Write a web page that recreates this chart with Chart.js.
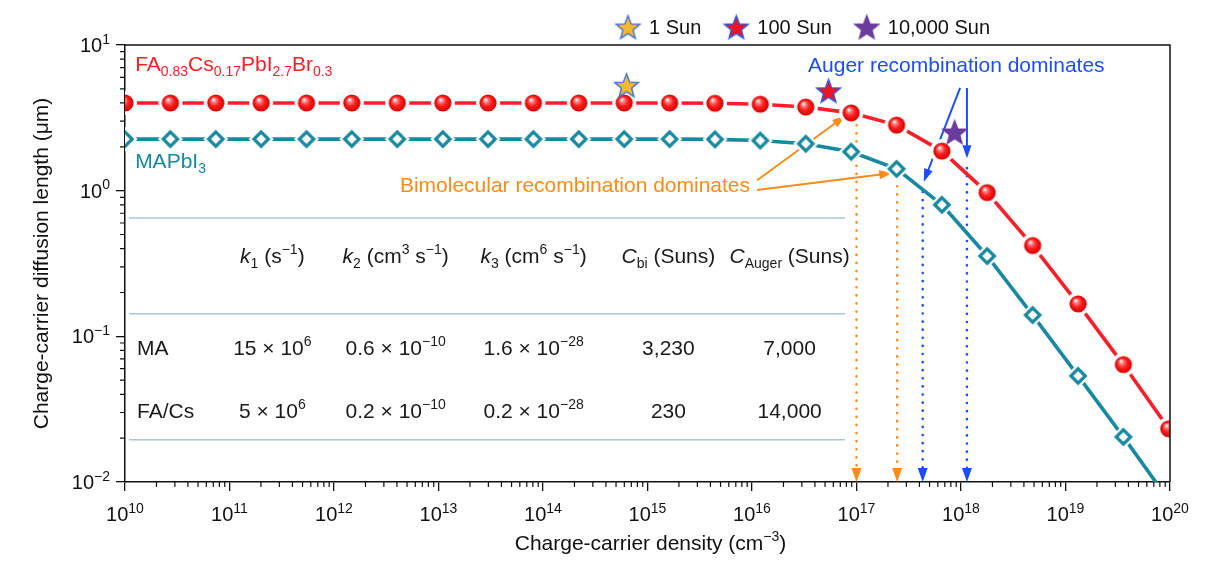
<!DOCTYPE html>
<html>
<head>
<meta charset="utf-8">
<script src="https://cdn.jsdelivr.net/npm/chart.js@4.4.1/dist/chart.umd.min.js"></script>
<style>
  html, body { margin: 0; padding: 0; background: #fff; }
</style>
</head>
<body>
<canvas id="diff-chart" width="1217" height="573"></canvas>
<script>
const FONT = '"Liberation Sans", Arial, Helvetica, sans-serif';

// charge-carrier density (cm^-3) of the computed points
const density = [1.00e10, 2.72e10, 7.39e10, 2.01e11, 5.46e11, 1.48e12, 4.03e12, 1.10e13,
  2.98e13, 8.10e13, 2.20e14, 5.99e14, 1.63e15, 4.42e15, 1.20e16, 3.27e16,
  8.89e16, 2.42e17, 6.57e17, 1.78e18, 4.85e18, 1.32e19, 3.58e19, 9.74e19];
// diffusion length (um)
const lengthFACs = [4.0, 4.0, 4.0, 4.0, 4.0, 4.0, 4.0, 4.0, 4.0, 4.0, 4.0, 4.0, 4.0,
  3.98, 3.92, 3.75, 3.42, 2.82, 1.87, 0.97, 0.42, 0.167, 0.064, 0.0232];
const lengthMA = [2.26, 2.26, 2.26, 2.26, 2.26, 2.26, 2.26, 2.26, 2.26, 2.26, 2.26, 2.26, 2.26,
  2.25, 2.21, 2.10, 1.85, 1.41, 0.80, 0.356, 0.140, 0.0535, 0.0204, 0.0075];

// illumination markers
const sunLabels = ['1 Sun', '100 Sun', '10,000 Sun'];
const sunDensity = [6.3e14, 5.4e16, 8.7e17];
const sunLength = [5.3, 4.85, 2.53];
const sunFill = ['#f6b82c', '#ec1524', '#6a3c9e'];
const sunEdge = ['#3d6fe0', '#2f57e8', '#6a3c9e'];

// dotted drop lines to the density axis
const dropDensity = [1e17, 2.45e17, 4.3e17, 1.14e18];
const dropTop = [3.2, 1.22, 0.98, 1.43];
const dropBottom = 0.0125;

// annotation arrows [density, length]
const arrowFrom = [[1.12e16, 1.18], [1.12e16, 1.01], [9.8e17, 5.07], [1.14e18, 5.07]];
const arrowTo = [[7.8e16, 3.26], [2.2e17, 1.32], [4.4e17, 1.15], [1.14e18, 1.67]];

const xMajor = [1e10, 1e11, 1e12, 1e13, 1e14, 1e15, 1e16, 1e17, 1e18, 1e19, 1e20];
const yMajor = [1e-2, 1e-1, 1e0, 1e1];

// rate-constant table
const tableHead = ['*k*_{1} (s^{−1})', '*k*_{2} (cm^{3} s^{−1})', '*k*_{3} (cm^{6} s^{−1})',
  '*C*_{bi} (Suns)', '*C*_{Auger} (Suns)'];
const tableRowNames = ['MA', 'FA/Cs'];
const tableMA = ['15 × 10^{6}', '0.6 × 10^{−10}', '1.6 × 10^{−28}', '3,230', '7,000'];
const tableFACs = ['5 × 10^{6}', '0.2 × 10^{−10}', '0.2 × 10^{−28}', '230', '14,000'];
const tableColExp = [11.41, 12.59, 13.91, 15.20, 16.36];   // log10 of density at column centre
const tableBaseline = [0.319, 0.0745, 0.0275];               // header, MA, FA/Cs
const tableRules = [0.65, 0.143, 0.0195];
const tableSpan = [10.04, 16.89];

const RED = '#f7202a';
const TEAL = '#17899f';
const ORANGE = '#ff8b17';
const BLUE = '#1d4dff';
const dropColor = [ORANGE, ORANGE, BLUE, BLUE];
const arrowColor = [ORANGE, ORANGE, BLUE, BLUE];

function makeCanvas(s) {
  const c = document.createElement('canvas');
  c.width = c.height = s;
  return c;
}

function makeSphere(r, halo) {
  const s = Math.ceil((r + halo) * 2) + 2, c = makeCanvas(s), g = c.getContext('2d'), m = s / 2;
  g.beginPath(); g.arc(m, m, r + halo, 0, Math.PI * 2); g.fillStyle = '#fff'; g.fill();
  const gr = g.createRadialGradient(m - r * 0.3, m - r * 0.4, r * 0.05, m, m, r);
  gr.addColorStop(0, '#ffffff');
  gr.addColorStop(0.22, '#ff8080');
  gr.addColorStop(0.55, '#ff1d1d');
  gr.addColorStop(1, '#d20000');
  g.beginPath(); g.arc(m, m, r, 0, Math.PI * 2); g.fillStyle = gr; g.fill();
  return c;
}

function makeDiamond(h, lw, halo, color) {
  const outer = h + lw * 0.75 + halo;
  const s = Math.ceil(outer * 2) + 2, c = makeCanvas(s), g = c.getContext('2d'), m = s / 2;
  const path = (d) => { g.beginPath(); g.moveTo(m, m - d); g.lineTo(m + d, m); g.lineTo(m, m + d); g.lineTo(m - d, m); g.closePath(); };
  path(outer); g.fillStyle = '#fff'; g.fill();
  path(h); g.fill(); g.lineWidth = lw; g.strokeStyle = color; g.lineJoin = 'miter'; g.stroke();
  return c;
}

function makeStar(R, fill, edge) {
  const s = Math.ceil(R * 2) + 4, c = makeCanvas(s), g = c.getContext('2d'), m = s / 2;
  g.beginPath();
  for (let i = 0; i < 10; i++) {
    const r = i % 2 ? R * 0.43 : R, a = -Math.PI / 2 + i * Math.PI / 5;
    g.lineTo(m + r * Math.cos(a), m + R * 0.1 + r * Math.sin(a));
  }
  g.closePath();
  g.fillStyle = fill; g.fill();
  g.lineWidth = 1.4; g.strokeStyle = edge; g.stroke();
  return c;
}

const sphere = makeSphere(8.6, 3.4);
const diamond = makeDiamond(7.2, 3.2, 3, TEAL);
const stars = sunLabels.map((_, i) => makeStar(12.5, sunFill[i], sunEdge[i]));

// tiny markup: ^{sup} _{sub} *italic*
function parseRich(str) {
  const out = [];
  str.replace(/\^\{([^}]*)\}|_\{([^}]*)\}|\*([^*]*)\*|([^^_*]+)/g, (m, sup, sub, it, plain) => {
    if (sup !== undefined) out.push({ t: sup, mode: 'sup' });
    else if (sub !== undefined) out.push({ t: sub, mode: 'sub' });
    else if (it !== undefined) out.push({ t: it, mode: 'it' });
    else out.push({ t: plain, mode: '' });
    return m;
  });
  return out;
}

function richText(ctx, str, x, y, align, size, color) {
  const parts = parseRich(str);
  const fontOf = p => (p.mode === 'it' ? 'italic ' : '') +
    (p.mode === 'sup' || p.mode === 'sub' ? Math.round(size * 0.68) : size) + 'px ' + FONT;
  let w = 0;
  parts.forEach(p => { ctx.font = fontOf(p); p.w = ctx.measureText(p.t).width; w += p.w; });
  let cx = align === 'center' ? x - w / 2 : align === 'right' ? x - w : x;
  ctx.textAlign = 'left';
  ctx.textBaseline = 'alphabetic';
  ctx.fillStyle = color;
  parts.forEach(p => {
    ctx.font = fontOf(p);
    const dy = p.mode === 'sub' ? size * 0.26 : p.mode === 'sup' ? -size * 0.42 : 0;
    ctx.fillText(p.t, cx, y + dy);
    cx += p.w;
  });
  return w;
}

function arrowHead(ctx, x, y, ang, len, half, color) {
  ctx.save();
  ctx.translate(x, y); ctx.rotate(ang);
  ctx.beginPath(); ctx.moveTo(0, 0); ctx.lineTo(-len, half); ctx.lineTo(-len, -half); ctx.closePath();
  ctx.fillStyle = color; ctx.fill();
  ctx.restore();
}

const expLabel = v => '10^{' + String(Math.round(Math.log10(v))).replace('-', '−') + '}';

const overlay = {
  id: 'overlay',
  beforeDatasetsDraw(chart) {
    const { ctx, chartArea: a, scales: { x, y } } = chart;
    const px = v => x.getPixelForValue(v), py = v => y.getPixelForValue(v);
    ctx.save();

    // table
    ctx.strokeStyle = '#a9c4e0'; ctx.lineWidth = 1.5;
    tableRules.forEach(v => {
      ctx.beginPath();
      ctx.moveTo(px(10 ** tableSpan[0]), py(v));
      ctx.lineTo(px(10 ** tableSpan[1]), py(v));
      ctx.stroke();
    });
    tableHead.forEach((t, i) => richText(ctx, t, px(10 ** tableColExp[i]), py(tableBaseline[0]), 'center', 21, '#1a1a1a'));
    [tableMA, tableFACs].forEach((row, r) => {
      richText(ctx, tableRowNames[r], px(10 ** 10.115), py(tableBaseline[r + 1]), 'left', 21, '#1a1a1a');
      row.forEach((t, i) => richText(ctx, t, px(10 ** tableColExp[i]), py(tableBaseline[r + 1]), 'center', 21, '#1a1a1a'));
    });

    // series labels and annotations
    richText(ctx, 'FA_{0.83}Cs_{0.17}PbI_{2.7}Br_{0.3}', px(1.25e10), py(6.64), 'left', 21, RED);
    richText(ctx, 'MAPbI_{3}', px(1.25e10), py(1.43), 'left', 21, TEAL);
    richText(ctx, 'Auger recombination dominates', px(3.44e16), py(6.53), 'left', 21, BLUE);
    richText(ctx, 'Bimolecular recombination dominates', px(4.27e12), py(0.98), 'left', 21, ORANGE);

    // arrows
    arrowFrom.forEach((f, i) => {
      const x0 = px(f[0]), y0 = py(f[1]), x1 = px(arrowTo[i][0]), y1 = py(arrowTo[i][1]);
      const ang = Math.atan2(y1 - y0, x1 - x0);
      ctx.strokeStyle = arrowColor[i]; ctx.lineWidth = 2;
      ctx.beginPath(); ctx.moveTo(x0, y0);
      ctx.lineTo(x1 - Math.cos(ang) * 10, y1 - Math.sin(ang) * 10); ctx.stroke();
      arrowHead(ctx, x1, y1, ang, 13, 4.5, arrowColor[i]);
    });

    // heads of the dotted drop lines
    dropDensity.forEach((d, i) => arrowHead(ctx, px(d), a.bottom, Math.PI / 2, 14, 5, dropColor[i]));
    ctx.restore();
  },
  afterDraw(chart) {
    const { ctx, chartArea: a, scales: { x, y } } = chart;
    const px = v => x.getPixelForValue(v), py = v => y.getPixelForValue(v);
    ctx.save();

    // frame top / right
    ctx.strokeStyle = '#111'; ctx.lineWidth = 1.5;
    ctx.beginPath(); ctx.moveTo(a.left, a.top); ctx.lineTo(a.right, a.top); ctx.lineTo(a.right, a.bottom); ctx.stroke();

    // minor ticks
    ctx.lineWidth = 1.2;
    ctx.beginPath();
    xMajor.slice(0, -1).forEach(d => {
      for (let k = 2; k <= 9; k++) { const xx = px(k * d); ctx.moveTo(xx, a.bottom); ctx.lineTo(xx, a.bottom + 5); }
    });
    yMajor.slice(0, -1).forEach(d => {
      for (let k = 2; k <= 9; k++) { const yy = py(k * d); ctx.moveTo(a.left, yy); ctx.lineTo(a.left - 5, yy); }
    });
    ctx.stroke();

    // tick labels
    xMajor.forEach(v => richText(ctx, expLabel(v), px(v), a.bottom + 39, 'center', 20, '#111'));
    yMajor.forEach(v => richText(ctx, expLabel(v), a.left - 15, py(v) + 7, 'right', 20, '#111'));

    // axis titles
    richText(ctx, 'Charge-carrier density (cm^{−3})', (a.left + a.right) / 2 + 3, a.bottom + 68, 'center', 21, '#111');
    ctx.save();
    ctx.translate(48, (a.top + a.bottom) / 2);
    ctx.rotate(-Math.PI / 2);
    richText(ctx, 'Charge-carrier diffusion length (μm)', 0, 0, 'center', 21, '#111');
    ctx.restore();

    // legend
    let lx = a.left + 503;
    sunLabels.forEach((t, i) => {
      const img = stars[i];
      ctx.drawImage(img, lx - img.width / 2, 27 - img.height / 2);
      const w = richText(ctx, t, lx + 21, 34, 'left', 20, '#111');
      lx += 21 + w + 35;
    });
    ctx.restore();
  }
};

const pts = (xs, ys) => xs.map((v, i) => ({ x: v, y: ys[i] }));

const datasets = [];
sunLabels.forEach((label, i) => datasets.push({
  label: label,
  data: [{ x: sunDensity[i], y: sunLength[i] }],
  showLine: false,
  pointStyle: stars[i],
  pointRadius: 10,
  pointHoverRadius: 10,
  pointBorderWidth: 0
}));
datasets.push({
  label: 'FA0.83Cs0.17PbI2.7Br0.3',
  data: pts(density, lengthFACs),
  borderColor: RED,
  borderWidth: 3.6,
  pointStyle: sphere,
  pointRadius: 8,
  pointHoverRadius: 8,
  pointBorderWidth: 0,
  tension: 0
});
datasets.push({
  label: 'MAPbI3',
  data: pts(density, lengthMA),
  borderColor: TEAL,
  borderWidth: 3.6,
  pointStyle: diamond,
  pointRadius: 8,
  pointHoverRadius: 8,
  pointBorderWidth: 0,
  tension: 0
});
dropDensity.forEach((d, i) => datasets.push({
  label: 'drop' + i,
  data: [{ x: d, y: dropTop[i] }, { x: d, y: dropBottom }],
  borderColor: dropColor[i],
  borderWidth: 2.6,
  borderDash: [0.1, 8],
  borderCapStyle: 'round',
  pointRadius: 0,
  pointHoverRadius: 0
}));

const diffChart = new Chart(document.getElementById('diff-chart'), {
  type: 'line',
  data: { datasets: datasets },
  options: {
    responsive: false,
    animation: false,
    layout: { padding: { top: 45, right: 47, left: 0, bottom: 0 } },
    plugins: {
      legend: { display: false },
      tooltip: { enabled: false }
    },
    scales: {
      x: {
        type: 'logarithmic',
        min: 1e10,
        max: 1e20,
        afterBuildTicks: s => { s.ticks = xMajor.map(v => ({ value: v, major: true })); },
        afterFit: s => { s.height = 91; },
        ticks: { display: false },
        grid: { drawOnChartArea: false, drawTicks: true, tickLength: 9, color: '#111', lineWidth: 1.3 },
        border: { display: true, color: '#111', width: 1.5 }
      },
      y: {
        type: 'logarithmic',
        min: 0.01,
        max: 10,
        afterBuildTicks: s => { s.ticks = yMajor.map(v => ({ value: v, major: true })); },
        afterFit: s => { s.width = 125; },
        ticks: { display: false },
        grid: { drawOnChartArea: false, drawTicks: true, tickLength: 9, color: '#111', lineWidth: 1.3 },
        border: { display: true, color: '#111', width: 1.5 }
      }
    }
  },
  plugins: [overlay]
});
</script>
</body>
</html>
